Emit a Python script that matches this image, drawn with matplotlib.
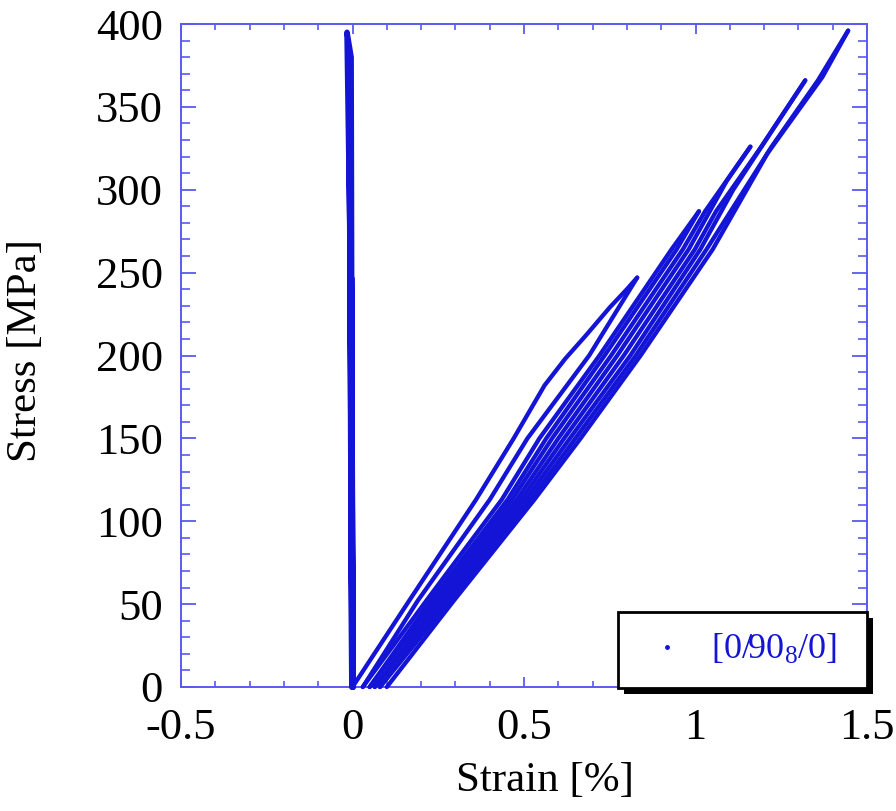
import matplotlib
matplotlib.use("Agg")
import matplotlib.pyplot as plt
from matplotlib.lines import Line2D
from matplotlib.ticker import MultipleLocator
import matplotlib.patheffects as pe

# ---- data (strain in %, stress in MPa) ----
load1_strain = [0.00, 0.165, 0.36, 0.47, 0.56, 0.62, 0.68, 0.75, 0.80, 0.83]
load1_stress = [0, 52, 113, 150, 182, 198, 212, 229, 240, 247]

unload1_strain = [0.83, 0.69, 0.51, 0.40, 0.19, 0.03]
unload1_stress = [247, 200, 150, 113, 52, 0]

reload1_strain = [0.03, 0.215, 0.435, 0.545, 0.72, 0.93, 1.01]
reload1_stress = [0, 52, 113, 150, 200, 264, 287]

unload2_strain = [1.01, 0.945, 0.735, 0.565, 0.452, 0.228, 0.05]
unload2_stress = [287, 264, 200, 150, 113, 52, 0]

reload2_strain = [0.05, 0.239, 0.465, 0.582, 0.754, 0.963, 1.028, 1.16]
reload2_stress = [0, 52, 113, 150, 200, 264, 287, 326]

unload3_strain = [1.16, 1.09, 0.980, 0.772, 0.600, 0.479, 0.251, 0.065]
unload3_stress = [326, 305, 264, 200, 150, 113, 52, 0]

reload3_strain = [0.065, 0.262, 0.492, 0.617, 0.791, 0.998, 1.06, 1.192, 1.32]
reload3_stress = [0, 52, 113, 150, 200, 264, 287, 326, 366]

unload4_strain = [1.32, 1.205, 1.11, 1.014, 0.810, 0.634, 0.505, 0.273, 0.08]
unload4_stress = [366, 330, 300, 264, 200, 150, 113, 52, 0]

reload4_strain = [0.08, 0.284, 0.518, 0.650, 0.826, 1.032, 1.222, 1.357, 1.445]
reload4_stress = [0, 52, 113, 150, 200, 264, 326, 366, 396]

unload5_strain = [1.445, 1.37, 1.21, 1.05, 0.84, 0.665, 0.53, 0.295, 0.10]
unload5_stress = [396, 368, 322, 264, 200, 150, 113, 52, 0]

# transverse gauge (near-zero strain band)
trans_strain = [0.002, -0.003, 0.001, -0.005, 0.000, -0.007, -0.001,
                -0.010, -0.002, -0.006, -0.016, -0.004, -0.002, 0.001]
trans_stress = [0, 247, 0, 287, 0, 326, 0, 366, 0, 250, 395, 380, 200, 0]

series_label = "[0/90$_8$/0]"
x_ticks = [-0.5, 0, 0.5, 1, 1.5]
x_tick_labels = ["-0.5", "0", "0.5", "1", "1.5"]
y_ticks = [0, 50, 100, 150, 200, 250, 300, 350, 400]

# ---- styling ----
BLUE = "#1414d6"
SPINE = "#5a5af0"
plt.rcParams["font.family"] = ["Liberation Serif", "DejaVu Serif"]
plt.rcParams["mathtext.fontset"] = "custom"
plt.rcParams["mathtext.rm"] = "Liberation Serif"
plt.rcParams["mathtext.it"] = "Liberation Serif"

fig = plt.figure(figsize=(8.96, 8.11), dpi=100)
ax = fig.add_axes([181 / 896, 1 - 687 / 811, 686 / 896, 663 / 811])

segments = [
    (load1_strain, load1_stress), (unload1_strain, unload1_stress),
    (reload1_strain, reload1_stress), (unload2_strain, unload2_stress),
    (reload2_strain, reload2_stress), (unload3_strain, unload3_stress),
    (reload3_strain, reload3_stress), (unload4_strain, unload4_stress),
    (reload4_strain, reload4_stress), (unload5_strain, unload5_stress),
]
for xs, ys in segments:
    ax.plot(xs, ys, color=BLUE, lw=3.1, solid_joinstyle="round",
            solid_capstyle="round", clip_on=False, zorder=3)
ax.plot(trans_strain, trans_stress, color=BLUE, lw=4.0, solid_joinstyle="round",
        solid_capstyle="round", clip_on=False, zorder=3)

ax.set_xlim(-0.5, 1.5)
ax.set_ylim(0, 400)
ax.set_xticks(x_ticks)
ax.set_xticklabels(x_tick_labels)
ax.set_yticks(y_ticks)
ax.xaxis.set_minor_locator(MultipleLocator(0.1))
ax.yaxis.set_minor_locator(MultipleLocator(10))

for sp in ax.spines.values():
    sp.set_color(SPINE)
    sp.set_linewidth(1.4)

ax.tick_params(axis="x", which="major", direction="in", length=7, width=1.3,
               color=SPINE, top=True, labelsize=32, pad=15, labelcolor="black")
ax.tick_params(axis="x", which="minor", direction="in", length=4.5, width=1.2,
               color=SPINE, top=True)
ax.tick_params(axis="y", which="major", direction="in", length=11, width=1.3,
               color=SPINE, right=True, labelsize=32, pad=13, labelcolor="black")
ax.tick_params(axis="y", which="minor", direction="in", length=6.5, width=1.2,
               color=SPINE, right=True)

fig.text(545 / 896, 1 - 781 / 811, "Strain [%]", ha="center", va="center",
         fontsize=31)
fig.text(26 / 896, 1 - 351 / 811, "Stress [MPa]", ha="center", va="center",
         rotation=90, fontsize=31)

handle = Line2D([], [], ls="none", marker="o", ms=2.5, color=BLUE)
leg = ax.legend([handle], [series_label], loc="lower left",
                bbox_to_anchor=(0.637, -0.002, 0.363, 0.115), mode="expand",
                borderaxespad=0, fontsize=26, frameon=True, fancybox=False,
                handlelength=1.55, handletextpad=0.45, borderpad=0.58,
                labelcolor=BLUE)
frame = leg.get_frame()
frame.set_edgecolor("black")
frame.set_linewidth(2.0)
frame.set_facecolor("white")
frame.set_alpha(1)
frame.set_path_effects([pe.SimplePatchShadow(offset=(4, -4), shadow_rgbFace="black",
                                              alpha=1.0), pe.Normal()])
leg.set_zorder(5)

fig.savefig("out.png", dpi=100)
